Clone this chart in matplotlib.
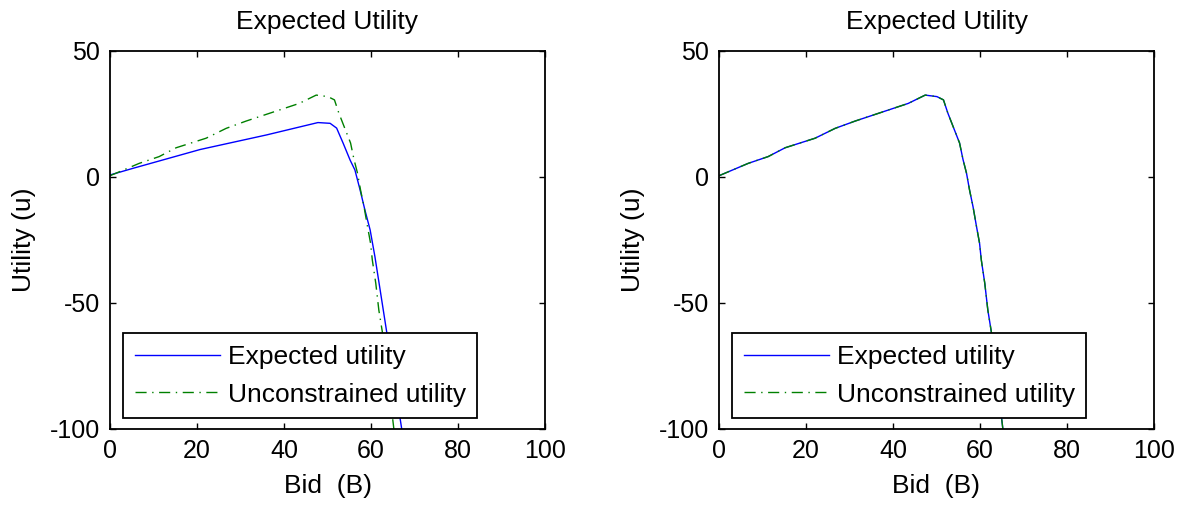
import numpy as np
import matplotlib.pyplot as plt

# bid values and utilities
bid_exp = [0, 5.4, 20.7, 36.0, 43.7, 47.8, 50.6, 52.1, 53.6, 55.2, 56.3,
           57.5, 58.6, 59.8, 60.9, 62.1, 63.6, 67.1]
u_exp = [0.8, 3.5, 10.9, 16.7, 19.9, 21.6, 21.3, 19.4, 13.4, 6.7, 2.8,
         -5.2, -13.1, -21.0, -31.6, -44.8, -61.4, -100.4]

bid_unc = [0, 6.7, 11.3, 15.2, 22.1, 26.7, 31.3, 37.4, 43.5, 47.4, 50.1,
           51.6, 52.6, 53.8, 55.3, 56.1, 56.9, 57.6, 58.4, 59.2, 59.9,
           60.3, 61.1, 61.8, 62.6, 65.3]
u_unc = [0.5, 5.4, 8.1, 11.6, 15.4, 19.3, 22.2, 25.7, 29.2, 32.5, 31.9,
         30.6, 25.4, 20.1, 13.5, 6.9, 1.5, -5.2, -11.8, -19.7, -26.3,
         -32.9, -42.2, -52.8, -61.4, -100.6]

xticks = [0, 20, 40, 60, 80, 100]
yticks = [-100, -50, 0, 50]

plt.rcParams['font.family'] = ['Liberation Sans', 'DejaVu Sans']
plt.rcParams['axes.unicode_minus'] = False

fig = plt.figure(figsize=(11.81, 5.08), dpi=100)
W, H = 1181., 508.
boxes = [(110, 545), (719, 1154)]
top, bot = 51, 429

# second panel: constrained and unconstrained coincide
panels = [(bid_exp, u_exp), (bid_unc, u_unc)]

for (l, r), (bx, uy) in zip(boxes, panels):
    ax = fig.add_axes([l / W, 1 - bot / H, (r - l) / W, (bot - top) / H])
    ax.plot(bx, uy, '-', color=(0, 0, 1), lw=1.0, label='Expected utility')
    ax.plot(bid_unc, u_unc, color=(0, 0.5, 0), lw=1.0,
            dashes=(8, 4, 1, 4), label='Unconstrained utility')
    ax.set_xlim(0, 100)
    ax.set_ylim(-100, 50)
    ax.set_xticks(xticks)
    ax.set_yticks(yticks)
    ax.tick_params(direction='in', length=4, width=1, top=True, right=True,
                   labelsize=18, pad=7)
    for s in ax.spines.values():
        s.set_linewidth(1.3)
    ax.set_title('Expected Utility', fontsize=19, pad=16)
    ax.set_xlabel('Bid  (B)', fontsize=19, labelpad=8)
    ax.set_ylabel('Utility (u)', fontsize=19, labelpad=10)
    leg = ax.legend(loc='lower left', bbox_to_anchor=(0.031, 0.028, 0.812, 0.2),
                    mode='expand', fontsize=19, fancybox=False, framealpha=1,
                    edgecolor='black', handlelength=3.2, handletextpad=0.3,
                    labelspacing=0.5, borderpad=0.45, borderaxespad=0)
    leg.get_frame().set_linewidth(1.3)

fig.savefig('out.png', dpi=100)
